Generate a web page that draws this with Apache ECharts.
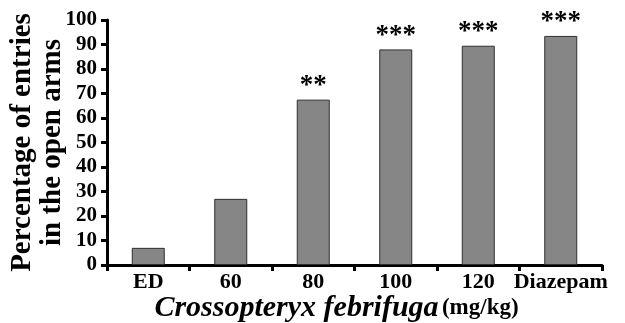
<!DOCTYPE html>
<html>
<head>
<meta charset="utf-8">
<script src="https://cdn.jsdelivr.net/npm/echarts@6/dist/echarts.min.js"></script>
<style>
  html, body { margin: 0; padding: 0; background: #fff; }
  #chart { width: 625px; height: 323px; }
</style>
</head>
<body>
<div id="chart"></div>
<script>
// Chart data
const categories = ['ED', '60', '80', '100', '120', 'Diazepam'];
const entryPercent = [7, 27, 67.5, 88, 89.5, 93.5];
const significance = ['', '', '**', '***', '***', '***'];

const serif = '"Liberation Serif", "Times New Roman", serif';

const chart = echarts.init(document.getElementById('chart'));

chart.setOption({
  animation: false,
  backgroundColor: '#fff',
  grid: { left: 107, right: 23, top: 20, bottom: 58, containLabel: false, outerBoundsMode: 'none' },
  xAxis: {
    type: 'category',
    data: categories,
    boundaryGap: true,
    axisLine: { lineStyle: { color: '#000', width: 3 } },
    axisTick: { show: true, inside: false, length: 6, interval: 0, lineStyle: { color: '#000', width: 3 } },
    axisLabel: { color: '#000', fontFamily: serif, fontWeight: 'bold', fontSize: 22, margin: 6, interval: 0 },
    name: '{it|Crossopteryx febrifuga} {un|(mg/kg)}',
    nameLocation: 'middle',
    nameMoveOverlap: false,
    nameGap: 28,
    nameTextStyle: {
      padding: [0, 36, 0, 0],
      rich: {
        it: { fontFamily: serif, fontWeight: 'bold', fontStyle: 'italic', fontSize: 30, color: '#000' },
        un: { fontFamily: serif, fontWeight: 'bold', fontSize: 23, color: '#000' }
      }
    }
  },
  yAxis: {
    type: 'value',
    min: 0,
    max: 100,
    interval: 10,
    splitLine: { show: false },
    axisLine: { show: true, lineStyle: { color: '#000', width: 3 } },
    axisTick: { show: true, length: 6, lineStyle: { color: '#000', width: 3 } },
    axisLabel: { color: '#000', fontFamily: serif, fontWeight: 'bold', fontSize: 21, margin: 10 },
    name: 'Percentage of entries\nin the open arms',
    nameLocation: 'middle',
    nameMoveOverlap: false,
    nameRotate: 90,
    nameGap: 39,
    nameTextStyle: { fontFamily: serif, fontWeight: 'bold', fontSize: 29, lineHeight: 30, color: '#000' }
  },
  series: [{
    type: 'bar',
    data: entryPercent,
    barWidth: '40%',
    itemStyle: { color: '#868686', borderColor: '#2e2e2e', borderWidth: 1 },
    label: {
      show: true,
      position: 'top',
      distance: 0,
      formatter: (p) => significance[p.dataIndex],
      fontFamily: serif,
      fontWeight: 'bold',
      fontSize: 27,
      color: '#000'
    }
  }]
});
</script>
</body>
</html>
